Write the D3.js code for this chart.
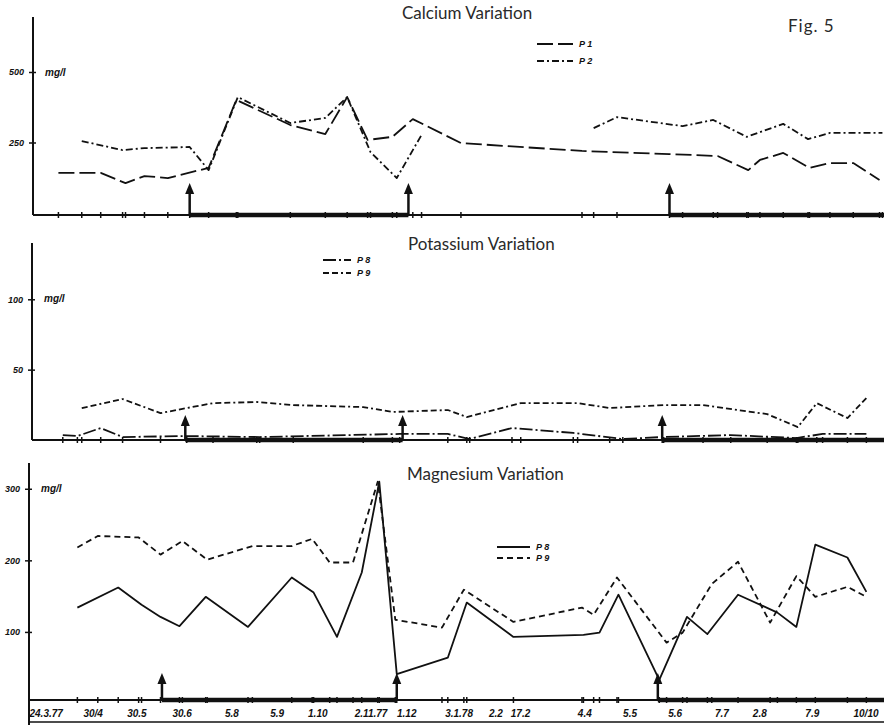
<!DOCTYPE html>
<html>
<head>
<meta charset="utf-8">
<script src="https://cdn.jsdelivr.net/npm/d3@7"></script>
<style>
  body { margin: 0; background: #fff; }
  svg { display: block; }
  .title { font-family: Lato, "Open Sans", sans-serif; font-size: 17px; fill: #2a2a2a; }
  .hand { font-family: "Liberation Sans", Arial, sans-serif; font-weight: bold; font-style: italic; fill: #111; }
</style>
</head>
<body>
<svg id="chart" width="884" height="725"></svg>
<script>
// days are counted from the first sampling date, 24.3.1977
const start = Date.UTC(1977, 2, 24)
const day = d => d3.utcDay.offset(new Date(start), d)

// bottom axis labels (sampling dates)
const xLabels = ["24.3.77", "30/4", "30.5", "30.6", "5.8", "5.9", "1.10", "2.11.77", "1.12", "3.1.78",
                 "2.2", "17.2", "4.4", "5.5", "5.6", "7.7", "2.8", "7.9", "10/10"]
const xLabelDays = [0, 37, 67, 98, 134, 165, 191, 223, 252, 285, 315, 330, 376, 407, 438, 470, 496, 532, 565]

// Calcium, mg/l  [day, value]
const caP1 = [[14, 142], [43, 142], [60, 106], [73, 131], [89, 124], [117, 160], [136, 401], [173, 312],
              [197, 280], [212, 411], [226, 259], [243, 270], [257, 333], [290, 248], [373, 220], [433, 209],
              [466, 202], [487, 152], [495, 188], [511, 213], [529, 160], [543, 177], [559, 177], [577, 117]]
const caP2 = [[30, 255], [58, 223], [73, 230], [104, 234], [117, 152], [137, 411], [173, 319], [197, 337],
              [212, 411], [228, 216], [246, 124], [263, 277], [320, null], [381, 301], [397, 340], [442, 308],
              [463, 330], [486, 270], [511, 316], [528, 262], [543, 284], [579, 284]]
const caTicks = [250, 500]
const caArrows = [104, 254, 433]

// Potassium, mg/l
const kP8 = [[17, 3.5], [27, 2.8], [43, 8.5], [58, 2.1], [102, 2.8], [152, 2.1], [248, 4.3], [281, 4.3],
             [296, 0.7], [325, 8.5], [367, 5.0], [401, 0.7], [428, 2.1], [475, 3.5], [520, 1.4], [538, 4.3], [568, 4.3]]
const kP9 = [[30, 22.7], [58, 29.1], [84, 19.1], [102, 22.7], [120, 26.2], [150, 27.0], [175, 24.8], [223, 23.4],
             [243, 19.9], [281, 21.3], [294, 16.3], [331, 26.2], [370, 26.2], [392, 22.7], [429, 24.8], [456, 24.8],
             [500, 18.4], [521, 9.2], [534, 26.2], [555, 15.6], [568, 29.8]]
const kTicks = [50, 100]
const kArrows = [101, 250, 428]

// Magnesium, mg/l
const mgP8 = [[27, 134], [55, 162], [71, 138], [84, 121], [97, 108], [115, 149], [144, 107], [174, 176],
              [189, 155], [205, 93], [222, 183], [234, 310], [246, 41], [281, 64], [294, 141], [326, 93],
              [374, 96], [385, 99], [398, 152], [426, 33], [445, 121], [459, 97], [480, 152], [507, 127],
              [520, 107], [533, 222], [555, 204], [568, 156]]
const mgP9 = [[27, 218], [41, 234], [69, 232], [84, 208], [99, 227], [116, 201], [147, 220], [174, 220],
              [188, 230], [200, 197], [216, 197], [233, 310], [245, 117], [277, 106], [292, 159], [326, 114],
              [373, 134], [381, 124], [397, 176], [431, 85], [442, 99], [462, 167], [480, 198], [502, 113],
              [520, 178], [533, 149], [555, 163], [568, 149]]
const mgTicks = [100, 200, 300]
const mgArrows = [85, 246, 425]

const W = 884
const ink = "#111"
const svg = d3.select("#chart")
const x = d3.scaleUtc().domain([day(0), day(565)]).range([38, 862])

const panels = [
  { title: "Calcium Variation", tx: 402, ty: 19, axisX: 33, top: 17, zero: 213, yMax: 695, base: 215, axisEnd: 215,
    ticks: caTicks, arrows: caArrows, arrowLen: 32, unitY: 76,
    legend: { x: 537, y: 44, gap: 17, len: 36 },
    series: [{ name: "P 1", data: caP1, dash: "16,5" }, { name: "P 2", data: caP2, dash: "7,3,2,3" }] },
  { title: "Potassium Variation", tx: 408, ty: 250, axisX: 32, top: 243, zero: 440, yMax: 140, base: 440, axisEnd: 440,
    ticks: kTicks, arrows: kArrows, arrowLen: 25, unitY: 302,
    legend: { x: 323, y: 260, gap: 13, len: 28 },
    series: [{ name: "P 8", data: kP8, dash: "13,3,2,3" }, { name: "P 9", data: kP9, dash: "6,3,6,3,2,3" }] },
  { title: "Magnesium Variation", tx: 407, ty: 480, axisX: 29, top: 463, zero: 703.5, yMax: 336, base: 700, axisEnd: 725,
    ticks: mgTicks, arrows: mgArrows, arrowLen: 27, unitY: 492,
    legend: { x: 497, y: 547, gap: 11, len: 33 },
    series: [{ name: "P 8", data: mgP8, dash: null }, { name: "P 9", data: mgP9, dash: "6,4" }] }
]

function drawPanel(p) {
  const g = svg.append("g")
  const y = d3.scaleLinear().domain([0, p.yMax]).range([p.zero, p.top])

  // y axis with crossing ticks
  g.append("line").attr("x1", p.axisX).attr("x2", p.axisX).attr("y1", p.top).attr("y2", p.axisEnd)
    .attr("stroke", ink).attr("stroke-width", 2)
  const ya = g.append("g").attr("transform", `translate(${p.axisX},0)`)
    .call(d3.axisLeft(y).tickValues(p.ticks).tickSize(4).tickPadding(5).tickSizeOuter(0))
  ya.select(".domain").remove()
  ya.selectAll(".tick line").attr("x1", -4).attr("x2", 3).attr("stroke", ink).attr("stroke-width", 1.5)
  ya.selectAll(".tick text").attr("class", "hand").attr("font-size", 9).attr("font-family", null)
  g.append("text").attr("class", "hand").attr("x", p.axisX + 12).attr("y", p.unitY)
    .attr("font-size", 10).text("mg/l")

  // baseline, sampling ticks and the thick bars
  g.append("line").attr("x1", p.axisX).attr("x2", W).attr("y1", p.base).attr("y2", p.base)
    .attr("stroke", ink).attr("stroke-width", 2)
  const sampleDays = Array.from(new Set(p.series.flatMap(s => s.data.filter(d => d[1] != null).map(d => d[0]))))
  g.selectAll(".stick").data(sampleDays).join("line")
    .attr("x1", d => x(day(d))).attr("x2", d => x(day(d)))
    .attr("y1", p.base - 3).attr("y2", p.base + 3)
    .attr("stroke", ink).attr("stroke-width", 1.5)
  const bars = [[x(day(p.arrows[0])), x(day(p.arrows[1]))], [x(day(p.arrows[2])), W]]
  g.selectAll(".bar").data(bars).join("line")
    .attr("x1", d => d[0]).attr("x2", d => d[1])
    .attr("y1", p.base).attr("y2", p.base)
    .attr("stroke", ink).attr("stroke-width", 4.5)

  // arrows
  p.arrows.forEach(a => {
    const ax = x(day(a))
    const tip = p.base - p.arrowLen
    g.append("line").attr("x1", ax).attr("x2", ax).attr("y1", p.base).attr("y2", tip + 8)
      .attr("stroke", ink).attr("stroke-width", 2.5)
    g.append("path").attr("d", `M${ax},${tip}L${ax - 4.5},${tip + 11}L${ax + 4.5},${tip + 11}Z`).attr("fill", ink)
  })

  // series
  const line = d3.line().defined(d => d[1] != null).x(d => x(day(d[0]))).y(d => y(d[1]))
  p.series.forEach(s => {
    g.append("path").datum(s.data).attr("d", line)
      .attr("fill", "none").attr("stroke", ink).attr("stroke-width", 1.8)
      .attr("stroke-linejoin", "round")
      .attr("stroke-dasharray", s.dash)
  })

  // legend
  p.series.forEach((s, i) => {
    const ly = p.legend.y + i * p.legend.gap
    g.append("line").attr("x1", p.legend.x).attr("x2", p.legend.x + p.legend.len).attr("y1", ly).attr("y2", ly)
      .attr("stroke", ink).attr("stroke-width", 2).attr("stroke-dasharray", s.dash)
    g.append("text").attr("class", "hand").attr("x", p.legend.x + p.legend.len + 6).attr("y", ly + 3)
      .attr("font-size", 9).text(s.name)
  })

  g.append("text").attr("class", "title").attr("x", p.tx).attr("y", p.ty).text(p.title)
}

panels.forEach(drawPanel)

// date labels below the last panel, written just after each sampling mark
const xa = svg.append("g").attr("transform", "translate(0,700)")
  .call(d3.axisBottom(x).tickValues(xLabelDays.map(day)).tickFormat((d, i) => xLabels[i]).tickSize(0).tickPadding(10))
xa.select(".domain").remove()
xa.selectAll(".tick text").attr("class", "hand").attr("font-size", 10).attr("font-family", null)
  .attr("text-anchor", "start").attr("dx", -9)
svg.append("line").attr("x1", 29).attr("x2", W).attr("y1", 722).attr("y2", 722).attr("stroke", ink).attr("stroke-width", 1.5)

svg.append("text").attr("class", "title").attr("x", 788).attr("y", 32).attr("font-size", 19).attr("letter-spacing", 1).text("Fig. 5")
</script>
</body>
</html>
